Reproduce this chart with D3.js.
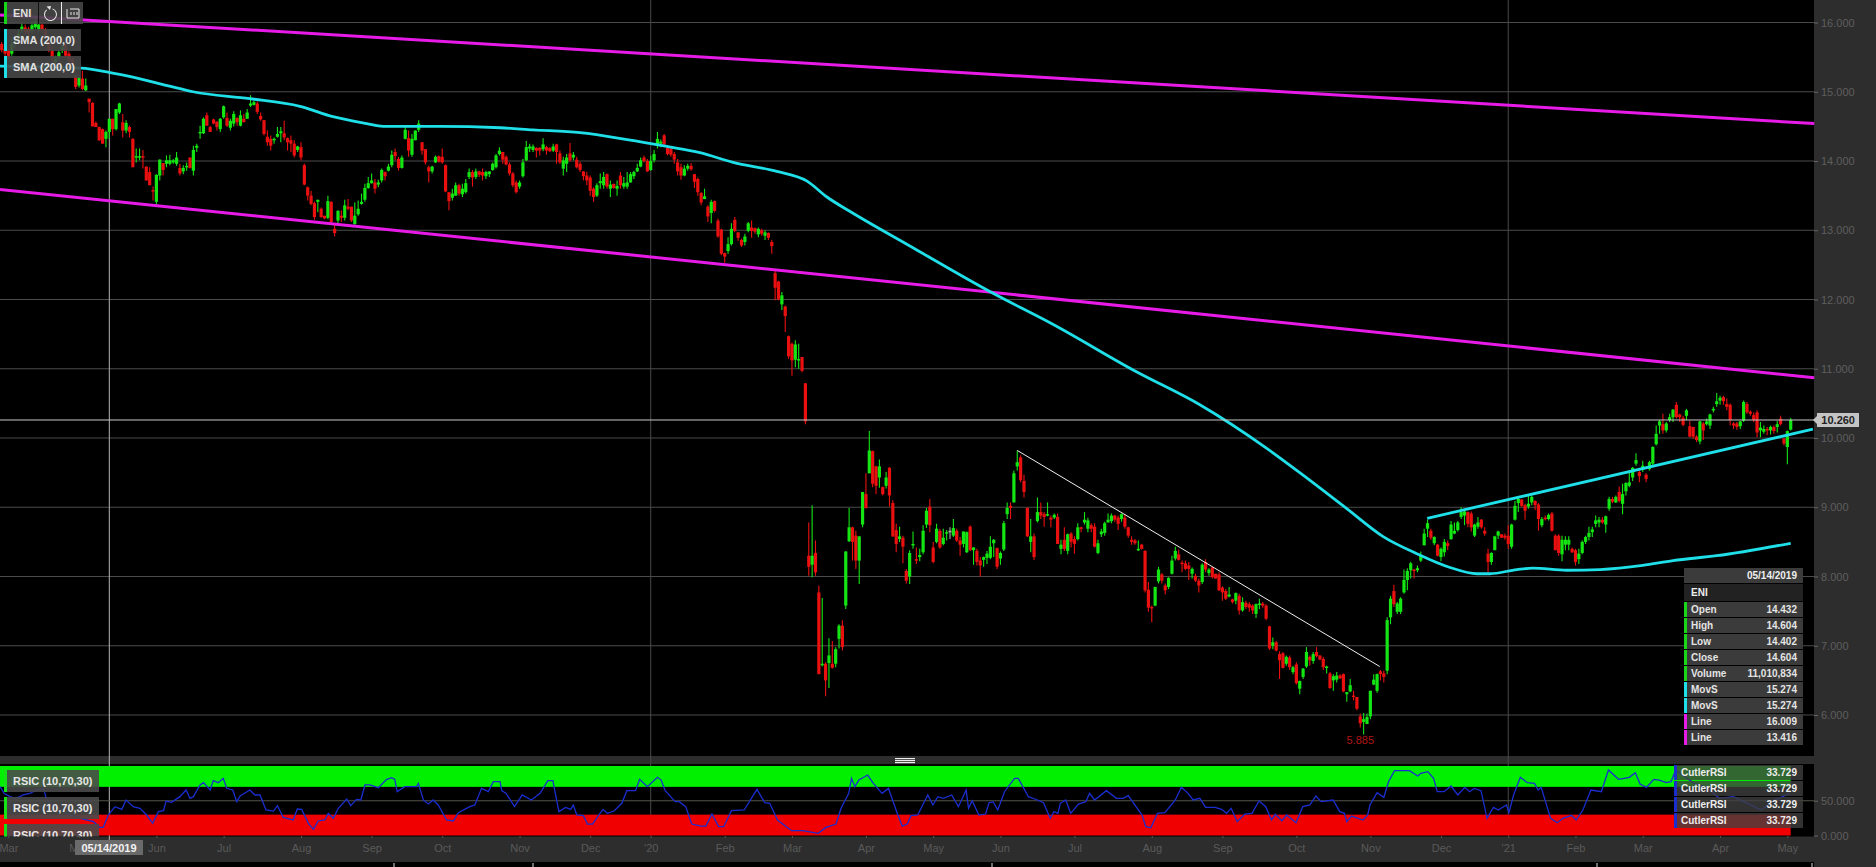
<!DOCTYPE html>
<html><head><meta charset="utf-8">
<script src="https://cdn.jsdelivr.net/npm/d3@7"></script>
<style>
html,body{margin:0;padding:0;background:#000;overflow:hidden}
text{font-family:"Liberation Sans",Arial,sans-serif}
svg{display:block}
</style></head><body><svg id="c" width="1876" height="867"></svg>
<script>
const priceTicks=[6,7,8,9,10,11,12,13,14,15,16];
const rsiTicks=[0,50];
const monthLabels=["Mar","May","Jun","Jul","Aug","Sep","Oct","Nov","Dec","'20","Feb","Mar","Apr","May","Jun","Jul","Aug","Sep","Oct","Nov","Dec","'21","Feb","Mar","Apr","May"];
const monthBars=[2,23,46,66,89,110,131,154,175,193,215,235,257,277,297,319,342,363,385,407,428,448,468,488,511,531];
const yearBars=[193,448];
const cursorBar=32, cursorPrice=10.26, lastPriceText="10.260", lowBar=404, lowPrice=5.885;
// open, high, low, close
const candles=[
[15.69,15.72,15.57,15.60],[15.62,15.64,15.50,15.55],[15.60,15.62,15.48,15.50],[15.55,15.76,15.52,15.69],[15.69,15.81,15.64,15.74],[15.76,15.90,15.72,15.84],[15.88,16.00,15.85,15.94],[15.93,15.97,15.82,15.86],[15.91,15.94,15.80,15.84],[15.88,16.02,15.85,15.96],
[15.93,16.07,15.91,16.02],[15.90,16.03,15.87,15.97],[15.97,16.00,15.85,15.90],[15.89,15.92,15.77,15.81],[15.74,15.79,15.57,15.60],[15.60,15.65,15.44,15.48],[15.43,15.52,15.40,15.48],[15.49,15.61,15.46,15.57],[15.60,15.68,15.56,15.64],[15.67,15.70,15.49,15.52],
[15.55,15.58,15.42,15.45],[15.48,15.50,15.34,15.38],[15.23,15.26,15.04,15.07],[15.09,15.24,15.06,15.20],[15.19,15.30,15.02,15.04],[15.02,15.19,15.01,15.09],
[14.90,14.90,14.70,14.85],[14.84,14.85,14.50,14.50],[14.55,14.57,14.49,14.49],[14.49,14.50,14.29,14.30],[14.46,14.47,14.25,14.25],[14.32,14.44,14.20,14.42],[14.42,14.61,14.32,14.61],[14.61,14.61,14.37,14.46],[14.46,14.75,14.44,14.75],[14.70,14.84,14.68,14.83],
[14.56,14.68,14.34,14.44],[14.44,14.59,14.40,14.55],[14.49,14.51,14.34,14.42],[14.32,14.33,13.91,13.91],[14.05,14.18,13.98,14.07],[14.05,14.18,14.01,14.07],[14.07,14.16,13.89,14.05],[13.92,13.92,13.72,13.72],[13.84,13.91,13.65,13.65],[13.58,13.63,13.43,13.56],
[13.41,13.81,13.37,13.80],[13.79,14.02,13.72,14.02],[13.97,13.97,13.79,13.87],[13.96,14.08,13.91,14.01],[13.96,14.09,13.94,14.01],[13.98,14.03,13.96,14.01],[13.96,14.13,13.93,14.05],[13.90,13.96,13.79,13.82],[13.85,13.94,13.81,13.90],[13.92,13.98,13.86,13.93],
[14.05,14.05,13.89,13.90],[13.86,14.22,13.79,14.16],[14.19,14.25,14.13,14.22],[14.40,14.51,14.32,14.42],[14.40,14.63,14.39,14.61],[14.66,14.70,14.51,14.51],[14.49,14.51,14.42,14.42],[14.60,14.61,14.53,14.54],[14.57,14.57,14.44,14.49],[14.46,14.62,14.42,14.61],
[14.63,14.80,14.61,14.79],[14.62,14.70,14.49,14.51],[14.48,14.61,14.44,14.58],[14.54,14.72,14.50,14.68],[14.62,14.63,14.51,14.56],[14.51,14.73,14.50,14.66],[14.61,14.68,14.56,14.56],[14.61,14.75,14.61,14.70],[14.80,14.95,14.78,14.83],[14.81,14.87,14.80,14.85],
[14.83,14.86,14.68,14.71],[14.65,14.70,14.58,14.60],[14.59,14.59,14.37,14.39],[14.35,14.44,14.22,14.27],[14.32,14.37,14.15,14.22],[14.30,14.34,14.25,14.32],[14.35,14.49,14.34,14.39],[14.40,14.49,14.27,14.43],[14.40,14.58,14.30,14.34],[14.33,14.34,14.15,14.27],
[14.30,14.37,14.13,14.25],[14.25,14.30,14.05,14.08],[14.16,14.22,14.13,14.21],[14.20,14.27,14.01,14.05],[13.94,13.96,13.65,13.66],[13.62,13.63,13.43,13.50],[13.50,13.57,13.36,13.38],[13.39,13.41,13.15,13.19],[13.41,13.44,13.26,13.44],[13.31,13.33,13.18,13.19],
[13.21,13.21,13.16,13.17],[13.18,13.50,13.16,13.42],[13.41,13.42,13.09,13.12],[13.02,13.09,12.91,12.96],[13.14,13.29,13.09,13.28],[13.21,13.29,13.12,13.18],[13.18,13.44,13.14,13.36],[13.34,13.45,13.29,13.31],[13.34,13.34,13.12,13.14],[13.09,13.40,13.08,13.21],
[13.23,13.43,13.21,13.31],[13.38,13.53,13.37,13.41],[13.44,13.67,13.41,13.61],[13.61,13.77,13.60,13.68],[13.68,13.82,13.67,13.72],[13.69,13.74,13.53,13.60],[13.66,13.73,13.62,13.69],[13.72,13.89,13.69,13.87],[13.84,13.85,13.72,13.78],[13.86,13.96,13.85,13.92],
[13.94,14.15,13.91,14.09],[14.13,14.18,14.01,14.07],[14.03,14.06,13.86,13.90],[13.90,14.08,13.89,14.05],[14.32,14.49,14.31,14.45],[14.33,14.44,14.06,14.15],[14.09,14.39,14.06,14.32],[14.30,14.44,14.30,14.44],[14.45,14.59,14.42,14.54],[14.27,14.27,14.09,14.15],
[14.17,14.17,13.95,13.98],[13.91,13.93,13.69,13.85],[13.85,13.93,13.82,13.92],[13.98,14.08,13.97,14.06],[14.07,14.08,13.98,13.99],[14.06,14.18,13.96,13.98],[13.94,13.95,13.55,13.56],[13.55,13.55,13.29,13.42],
[13.47,13.60,13.43,13.53],[13.50,13.69,13.50,13.65],[13.65,13.67,13.50,13.53],[13.52,13.67,13.48,13.60],[13.55,13.74,13.53,13.68],[13.77,13.89,13.74,13.84],[13.84,13.87,13.63,13.76],[13.77,13.89,13.74,13.85],[13.85,13.86,13.77,13.80],[13.84,13.89,13.72,13.79],
[13.78,13.86,13.74,13.84],[13.81,13.85,13.77,13.85],[13.87,13.98,13.86,13.96],[13.91,14.10,13.89,14.08],[14.10,14.20,14.08,14.15],[14.13,14.13,13.96,14.02],[14.06,14.08,13.94,13.95],[13.95,13.98,13.79,13.82],[13.82,13.84,13.62,13.65],[13.69,13.72,13.53,13.55],
[13.63,13.72,13.60,13.69],[13.78,14.03,13.76,13.98],[14.01,14.29,14.00,14.20],[14.18,14.25,14.13,14.21],[14.16,14.24,14.13,14.21],[14.19,14.20,14.05,14.15],[14.19,14.20,14.08,14.15],[14.17,14.33,14.14,14.24],[14.20,14.22,14.09,14.15],[14.19,14.20,14.13,14.14],
[14.15,14.25,14.13,14.21],[14.24,14.25,13.96,14.13],[14.11,14.15,13.96,13.98],[13.89,14.06,13.79,14.01],[13.96,14.10,13.84,14.05],[14.11,14.26,13.99,14.01],[14.05,14.13,14.01,14.09],[14.02,14.06,13.89,13.91],[13.96,13.99,13.84,13.87],[13.85,13.85,13.72,13.78],
[13.79,13.84,13.65,13.72],[13.76,13.79,13.50,13.57],[13.60,13.62,13.41,13.48],[13.50,13.68,13.48,13.65],[13.68,13.82,13.60,13.71],[13.65,13.84,13.60,13.77],[13.81,13.82,13.60,13.63],[13.60,13.72,13.48,13.66],[13.67,13.67,13.60,13.61],[13.60,13.72,13.50,13.64],
[13.79,13.84,13.60,13.65],[13.63,13.77,13.60,13.68],[13.63,13.84,13.60,13.69],[13.69,13.84,13.69,13.81],[13.78,13.86,13.74,13.84],[13.85,13.96,13.84,13.90],[13.92,14.05,13.91,14.01],[14.05,14.08,13.98,14.00],[14.00,14.03,13.84,13.85],[13.87,14.08,13.86,14.00],
[14.01,14.16,13.98,14.10],[14.22,14.42,14.18,14.32],[14.25,14.31,14.20,14.28],[14.37,14.39,14.22,14.24],[14.19,14.22,14.08,14.10],[14.18,14.20,14.06,14.09],[14.10,14.13,13.96,14.02],[13.98,14.03,13.79,13.85],[13.91,13.96,13.73,13.79],[13.79,13.94,13.78,13.89],
[13.89,13.96,13.86,13.93],[13.93,13.97,13.86,13.88],[13.81,13.81,13.61,13.70],[13.74,13.76,13.50,13.55],[13.54,13.55,13.36,13.40],[13.45,13.60,13.45,13.49],[13.34,13.36,13.12,13.20],[13.25,13.44,13.10,13.41],[13.42,13.43,13.26,13.28],[13.14,13.17,12.89,12.91],
[13.01,13.02,12.64,12.66],[12.67,12.68,12.53,12.62],[12.70,12.90,12.66,12.80],[12.80,13.10,12.78,13.02],[13.15,13.19,12.97,12.99],[12.97,12.97,12.85,12.89],[12.86,12.88,12.76,12.78],[12.83,12.95,12.78,12.91],[12.99,13.12,12.97,13.10],[13.04,13.14,12.89,12.99],
[13.03,13.04,12.95,12.98],[12.94,13.04,12.90,13.02],[13.00,13.02,12.92,12.95],[12.92,13.00,12.86,12.97],[12.96,12.97,12.86,12.89],[12.83,12.86,12.66,12.77],[12.38,12.42,11.99,12.17],[12.26,12.27,11.99,12.00],[11.93,12.11,11.85,12.06],[11.90,11.91,11.53,11.76],
[11.47,11.48,11.14,11.18],[11.36,11.38,10.90,11.12],[11.13,11.41,11.02,11.35],[11.12,11.36,11.00,11.14],[11.17,11.17,10.95,10.97],[10.79,10.79,10.20,10.24],
[8.30,8.78,8.01,8.14],[8.17,9.03,7.99,8.30],[8.34,8.52,8.01,8.06],[7.77,7.87,6.59,6.59],[6.72,7.69,6.70,6.74],[6.74,6.76,6.27,6.50],[6.75,7.11,6.39,6.86],[6.74,7.07,6.67,6.68],[6.74,6.98,6.69,6.95],[7.10,7.31,6.96,7.29],
[7.29,7.37,6.93,6.98],[7.58,8.37,7.53,8.36],[8.51,8.99,8.50,8.71],[8.71,8.72,8.23,8.50],[8.59,8.66,8.11,8.23],[8.23,8.58,7.89,8.58],[8.75,9.22,8.71,9.22],[9.19,9.49,8.98,8.99],[9.49,10.10,9.49,9.82],[9.81,9.82,9.29,9.34],
[9.59,9.60,9.19,9.31],[9.43,9.69,9.28,9.59],[9.29,9.30,9.17,9.19],[9.31,9.51,9.27,9.43],[9.57,9.58,9.01,9.17],[9.06,9.10,8.57,8.58],[8.67,8.76,8.35,8.47],[8.54,8.72,8.50,8.58],[8.56,8.59,8.19,8.43],[8.08,8.11,7.90,7.94],
[8.00,8.38,7.89,8.34],[8.45,8.65,8.40,8.47],[8.25,8.42,8.18,8.23],[8.28,8.40,8.22,8.31],[8.35,8.74,8.32,8.66],[8.75,8.99,8.70,8.95],[9.01,9.12,8.64,8.74],[8.42,8.50,8.19,8.21],[8.50,8.76,8.48,8.69],[8.66,8.69,8.40,8.42],
[8.47,8.69,8.45,8.56],[8.62,8.67,8.52,8.64],[8.66,8.71,8.54,8.66],[8.59,8.83,8.57,8.70],[8.66,8.69,8.50,8.52],[8.52,8.57,8.30,8.46],[8.47,8.65,8.42,8.65],[8.35,8.65,8.34,8.64],[8.72,8.74,8.37,8.38],[8.38,8.42,8.17,8.42],
[8.37,8.40,8.16,8.21],[8.23,8.28,8.00,8.16],[8.24,8.29,8.14,8.28],[8.27,8.37,8.18,8.33],[8.27,8.58,8.25,8.43],[8.48,8.54,8.28,8.53],[8.41,8.42,8.11,8.14],[8.26,8.36,8.17,8.34],[8.39,8.80,8.37,8.77],[8.90,9.07,8.83,8.99],
[9.02,9.07,8.83,8.99],[9.07,9.53,9.07,9.49],[9.59,9.82,9.53,9.65],[9.72,9.75,9.36,9.39],[9.38,9.47,9.14,9.22],[8.99,9.00,8.57,8.58],[8.50,8.83,8.35,8.58],[8.58,8.62,8.24,8.28],[8.80,9.14,8.78,8.93],[8.93,9.07,8.83,8.88],
[8.90,8.93,8.72,8.86],[8.88,9.07,8.87,8.90],[8.85,8.88,8.71,8.82],[8.85,8.91,8.83,8.89],[8.86,8.91,8.47,8.47],[8.40,8.53,8.32,8.46],[8.53,8.71,8.37,8.40],[8.37,8.62,8.32,8.61],[8.62,8.64,8.42,8.50],[8.54,8.58,8.33,8.47],
[8.54,8.77,8.52,8.71],[8.71,8.72,8.64,8.69],[8.78,8.93,8.75,8.82],[8.69,8.85,8.64,8.81],[8.74,8.77,8.64,8.69],[8.72,8.77,8.42,8.43],[8.34,8.53,8.32,8.48],[8.61,8.69,8.57,8.65],[8.63,8.79,8.59,8.77],[8.78,8.91,8.78,8.82],
[8.80,8.91,8.77,8.88],[8.88,8.89,8.79,8.82],[8.85,8.88,8.67,8.76],[8.83,8.91,8.79,8.90],[8.85,8.90,8.69,8.72],[8.71,8.72,8.56,8.59],[8.53,8.58,8.46,8.50],[8.52,8.54,8.46,8.48],[8.38,8.52,8.37,8.40],[8.46,8.47,8.39,8.40],
[8.37,8.38,7.77,7.80],[7.81,7.92,7.49,7.55],[7.56,7.58,7.34,7.55],[7.58,7.85,7.57,7.85],[7.93,8.14,7.90,8.10],[8.03,8.05,7.90,7.94],[7.87,7.90,7.74,7.80],[7.85,7.99,7.82,7.98],[8.04,8.30,8.03,8.23],[8.26,8.43,8.23,8.37],
[8.32,8.39,8.23,8.24],[8.20,8.23,8.06,8.18],[8.19,8.23,8.09,8.11],[8.16,8.21,7.95,8.11],[8.04,8.13,7.97,8.11],[8.01,8.04,7.92,7.94],[7.94,7.97,7.77,7.87],
[7.92,8.19,7.89,8.17],[8.21,8.25,8.06,8.10],[8.05,8.12,8.01,8.10],[8.13,8.14,7.97,7.99],[8.04,8.04,7.97,7.97],[8.03,8.06,7.79,7.80],[7.84,7.86,7.65,7.77],[7.79,7.82,7.66,7.68],[7.71,7.85,7.70,7.74],[7.67,7.68,7.61,7.63],
[7.65,7.77,7.60,7.76],[7.72,7.75,7.45,7.51],[7.51,7.70,7.49,7.63],[7.62,7.65,7.53,7.56],[7.60,7.63,7.49,7.55],[7.58,7.60,7.46,7.51],[7.46,7.61,7.40,7.60],[7.59,7.68,7.53,7.61],[7.61,7.63,7.55,7.58],[7.58,7.60,7.37,7.39],
[7.28,7.29,6.94,6.96],[7.00,7.12,6.95,7.05],[7.05,7.07,6.92,6.93],[6.88,6.92,6.52,6.79],[6.89,6.91,6.67,6.68],[6.74,6.86,6.71,6.84],[6.83,6.86,6.65,6.69],[6.62,6.71,6.59,6.69],[6.73,6.76,6.44,6.46],[6.38,6.50,6.30,6.49],
[6.55,6.68,6.52,6.67],[6.70,6.98,6.68,6.91],[6.84,6.86,6.71,6.79],[6.78,6.91,6.74,6.88],[6.91,6.98,6.83,6.85],[6.86,6.86,6.79,6.80],[6.81,6.84,6.65,6.69],[6.68,6.71,6.60,6.70],[6.60,6.62,6.38,6.39],[6.50,6.59,6.35,6.56],
[6.51,6.62,6.47,6.57],[6.57,6.59,6.52,6.53],[6.59,6.60,6.33,6.34],[6.30,6.33,6.19,6.33],[6.34,6.52,6.33,6.43],[6.28,6.35,6.21,6.26],[6.26,6.26,6.07,6.09],[5.98,6.02,5.82,5.88],[5.90,6.03,5.72,5.94],[5.87,6.02,5.87,5.97],
[5.98,6.35,5.94,6.35],[6.44,6.59,6.43,6.51],[6.35,6.60,6.32,6.59],[6.63,6.65,6.50,6.59],[6.60,6.64,6.47,6.55],[6.64,7.41,6.59,7.37],[7.41,7.72,7.31,7.68],[7.79,7.88,7.56,7.60],[7.49,7.63,7.46,7.61],[7.49,7.70,7.46,7.68],
[7.77,8.10,7.75,7.95],[7.95,8.12,7.80,8.08],[8.09,8.21,7.97,8.19],[8.10,8.11,7.97,8.08],[8.09,8.16,8.06,8.12],[8.23,8.36,8.21,8.30],[8.45,8.69,8.45,8.62],[8.69,8.82,8.57,8.77],[8.66,8.69,8.53,8.56],[8.48,8.58,8.45,8.57],
[8.46,8.47,8.29,8.30],[8.28,8.42,8.22,8.40],[8.35,8.54,8.29,8.50],[8.48,8.52,8.38,8.44],[8.54,8.80,8.53,8.75],[8.62,8.78,8.61,8.66],[8.67,8.80,8.65,8.78],[8.86,9.00,8.83,8.93],[8.88,8.98,8.74,8.94],[8.93,8.94,8.71,8.76],
[8.91,8.94,8.65,8.71],[8.59,8.76,8.57,8.75],[8.72,8.86,8.69,8.78],[8.82,8.83,8.69,8.71],[8.66,8.71,8.59,8.62],[8.33,8.40,8.06,8.21],[8.21,8.35,8.17,8.34],[8.38,8.59,8.38,8.58],[8.59,8.66,8.54,8.65],[8.61,8.61,8.56,8.56],
[8.59,8.62,8.53,8.56],[8.59,8.74,8.40,8.47],[8.43,8.76,8.40,8.75],[8.82,9.09,8.81,9.02],[9.06,9.14,8.93,9.12],[9.11,9.12,9.00,9.02],[9.03,9.05,8.82,8.95],[9.01,9.17,8.98,9.05],[9.07,9.17,9.03,9.15],[9.09,9.10,8.96,9.03],
[9.04,9.06,8.66,8.83],[8.74,8.86,8.71,8.83],[8.85,8.88,8.81,8.83],[8.83,8.91,8.81,8.89],[8.91,8.93,8.65,8.66],
[8.59,8.61,8.38,8.38],[8.59,8.61,8.30,8.34],[8.32,8.59,8.22,8.53],[8.46,8.58,8.38,8.53],[8.46,8.58,8.38,8.53],[8.40,8.42,8.34,8.35],[8.38,8.40,8.16,8.21],[8.25,8.40,8.18,8.33],[8.34,8.52,8.32,8.50],[8.50,8.59,8.47,8.57],
[8.57,8.72,8.52,8.63],[8.64,8.72,8.57,8.68],[8.76,8.88,8.71,8.81],[8.78,8.86,8.71,8.82],[8.82,8.86,8.76,8.78],[8.75,8.88,8.63,8.87],[8.98,9.15,8.95,9.12],[9.12,9.15,9.06,9.08],[9.07,9.17,9.06,9.15],[9.22,9.30,9.07,9.09],
[9.05,9.34,8.90,9.19],[9.23,9.36,9.17,9.35],[9.31,9.53,9.29,9.36],[9.43,9.58,9.38,9.57],[9.63,9.78,9.60,9.68],[9.51,9.53,9.36,9.45],[9.54,9.67,9.51,9.60],[9.47,9.49,9.36,9.41],[9.55,9.67,9.53,9.65],[9.63,9.88,9.60,9.87],
[9.91,10.18,9.89,10.06],[10.18,10.26,10.06,10.24],[10.20,10.35,10.06,10.11],[10.11,10.23,10.08,10.21],[10.26,10.35,10.23,10.30],[10.30,10.42,10.23,10.41],[10.48,10.52,10.28,10.30],[10.34,10.35,10.23,10.30],[10.29,10.32,10.17,10.19],[10.32,10.42,10.26,10.40],
[10.17,10.25,10.01,10.02],[10.16,10.16,9.99,10.02],[10.02,10.04,9.94,9.97],[9.95,10.25,9.91,10.24],[10.21,10.23,9.97,10.11],[10.20,10.28,10.18,10.24],[10.18,10.35,10.13,10.34],[10.40,10.45,10.37,10.42],[10.49,10.65,10.45,10.53],[10.54,10.61,10.48,10.58],
[10.59,10.61,10.48,10.53],[10.49,10.57,10.40,10.45],[10.48,10.50,10.18,10.26],[10.21,10.23,10.13,10.18],[10.21,10.23,10.12,10.16],[10.17,10.25,10.13,10.24],[10.25,10.54,10.23,10.52],[10.49,10.52,10.35,10.37],[10.38,10.40,10.32,10.35],[10.33,10.37,10.23,10.26],
[10.37,10.40,10.01,10.08],[10.11,10.23,10.01,10.15],[10.09,10.18,10.06,10.13],[10.13,10.16,10.04,10.11],[10.11,10.18,10.05,10.16],[10.16,10.18,10.06,10.10],[10.16,10.25,10.08,10.20],[10.28,10.32,10.18,10.20],[9.99,10.00,9.89,9.92],[9.87,10.11,9.62,10.10],
[10.12,10.29,10.11,10.26]];
const smaBars=[-0.5,23.6,31.9,39,49.2,56.9,73.8,88.7,98.5,108.6,113.4,118.4,130.3,148.2,158,172,186,197.8,207.6,217.5,230.5,239.5,245.4,252.3,269.8,294.8,312.3,337.3,356.3,376.2,386,400,410.7,420.8,430.7,438.7,442.5,450.6,455.3,465.4,475.3,488,497,510,532];
const smaValues=[15.37,15.34,15.28,15.21,15.09,15.00,14.90,14.79,14.64,14.54,14.50,14.50,14.50,14.48,14.45,14.41,14.31,14.21,14.12,13.98,13.85,13.71,13.48,13.27,12.78,12.09,11.65,10.96,10.48,9.85,9.50,8.98,8.58,8.33,8.13,8.04,8.04,8.10,8.12,8.09,8.10,8.16,8.23,8.30,8.48];
const upperChannel=[[-0.5,16.11],[539,14.54]];
const lowerChannel=[[-0.5,13.59],[539,10.87]];
const downTrend=[[302,9.82],[409.8,6.70]];
const upTrend=[[423.9,8.84],[538.6,10.127]];
const rsiPoints=[[-0.5,70.3],[0.7,60.7],[2.5,55.9],[4,53.5],[5.4,55.9],[6.4,58.3],[8.4,60.7],[10.4,65.5],[12.4,67.9],[13.4,51.1],[14.4,46.3],[19.3,31.9],[23.3,24.7],[27.3,19.9],[29.2,11.7],[30.2,11.7],[31.7,29.5],[33.7,41.5],[35.7,37.6],[37,51.1],[39.1,41.5],[41.1,39.1],[43.1,29.5],[44.9,17.5],[46.6,34.3],[48.1,35.7],[48.9,49.6],[50.5,47.7],[53,55.9],[54.8,65.5],[56,53.5],[57,55.9],[59,72.7],[60,76],[62,65.5],[62.9,78.9],[64.4,76],[65.9,82.2],[66.9,67.9],[68.7,65.5],[69.9,48.7],[70.9,56.8],[73.8,65.5],[75.3,58.3],[76.8,58.3],[78.6,36.7],[80.8,35.2],[82,42.9],[83.7,26.1],[86.7,22.3],[87.9,38.1],[89.2,37.6],[91.2,17.5],[92.7,8.9],[94.1,20.9],[96.1,22.3],[97.1,31.9],[98.6,24.7],[100.1,39.1],[102.6,52.5],[103.8,42.9],[105.5,52],[106.8,51.1],[108,72.7],[109.5,72.7],[112,68.8],[114.5,80.8],[116,83.2],[116.9,80.8],[117.6,63.1],[119.9,70.3],[123.4,70.3],[123.9,75],[125.4,51.1],[126.9,45.3],[128.3,51.1],[129.8,43.9],[132.3,22.3],[134.3,20.9],[135.8,32.8],[139.2,41.5],[140.7,43.9],[142.7,67.9],[144.7,63.1],[146.2,77.4],[148.2,77.4],
[148.7,64.5],[150,60.6],[152.5,41.5],[154.8,58.3],[157.5,51.1],[160.1,60.6],[162.4,78.9],[163.9,78.9],[165.7,34.3],[167.7,40.5],[169.2,37.6],[170,43.9],[171,29.5],[173,28.5],[174.2,16.5],[175.7,16.5],[177.6,29.5],[178.8,37.6],[180.1,31.9],[182.1,35.2],[184.4,46.3],[185.9,64.5],[188.5,64.5],[189.7,80.8],[192,70.2],[195,83.7],[196.1,79.8],[197.3,64.5],[200.3,48.7],[201.5,48.7],[203.4,41.5],[205.2,16.5],[207.9,13.6],[209.4,13.6],[211.2,30.9],[213.2,12.7],[214.7,12.7],[217,35.7],[220.8,36.7],[224.6,66.4],[226.9,47.2],[228.4,46.3],[230.7,22.3],[234.9,6.9],[238.2,6.9],[242.8,3.1],[245.1,11.7],[248.1,16.5],[249.6,39.1],[251.9,60.6],[252.7,82.2],[253.7,70.2],[254.9,79.8],[257.5,87],[259.2,75],[261.8,60.6],[263.7,67.8],[266.3,31.9],[267.8,13.6],[269.3,16.5],[270.4,28.5],[272.4,29.5],[275.4,58.3],[276.9,43.9],[278.4,55.9],[280,53.5],[282.5,58.3],[284.5,41.5],[286.8,65.4],[287.5,39.1],[288.6,50.1],[290.6,29.5],[292.6,30.9],[293.6,47.2],[294.8,48.7],[296.2,36.7],[298.2,63],[301.2,82.2],[302.3,82.2],[305.3,55.9],[308,51.1],[309.8,47.2],[311.8,24.7],[312.9,34.3],[314.1,31.9],[314.8,46.3],[316.4,51.1],[317.9,31.9],[320.2,45.3],[322.4,48.7],[323.5,60.6],[325,51.1],[328.5,64.5],[331.5,53.5],[333.5,53.5],[335,57.3],[339.1,29.5],[340.2,12.7],[341.7,11.2],[343.7,31.9],[345.9,32.8],[349,51.1],[350.8,69.3],[352.8,60.6],[354.3,51.1],[356.3,53.5],
[358,40.5],[360.8,40.5],[362.8,37.6],[364.2,31.9],[365.6,39.1],[367.4,19.9],[369.7,30.9],[371.8,31.9],[373.9,49.6],[375.9,41.5],[377.6,22.3],[378.7,30.4],[380.7,21.3],[382.1,29.5],[384.9,18.4],[386.9,41.5],[389,43.9],[390.8,56.8],[392.4,48.7],[395.9,51.1],[397.9,34.3],[399.3,31.9],[400,19.9],[401.4,28],[404.8,22.3],[406.2,29.5],[406.9,43.9],[409,61.6],[411,54.9],[412.4,77.4],[414.2,93.3],[418.6,93.3],[421.1,85.6],[422,89.4],[424.1,91.8],[425.8,82.2],[426.9,63],[428.9,63],[431,71.2],[433,58.3],[435.1,69.3],[436.5,63],[437.9,67.8],[439.9,64.5],[441.7,24.7],[443.6,40.5],[445,36.7],[447.5,43.9],[448.2,32.8],[449.6,58.3],[451.6,83.7],[453.7,76],[455.8,75],[456.9,65.4],[457.8,69.3],[460.6,24.7],[462.6,18.4],[464.3,24.7],[466.8,29],[468.2,22.3],[470.2,36.7],[472.6,65.4],[475.7,63],[477.8,94.2],[480.8,80.8],[484,83.7],[485.8,90.4],[487.2,74.1],[489.1,69.3],[491.3,80.8],[492.9,79.8],[495,76],[496.4,77.4],[497.8,94.2],[499.8,87],[503.3,75],[506.7,70.2],[510.8,53.5],[515,55.9],[519.1,46.3],[523.2,36.7],[527.3,51.1],[531.8,60.6]];
const overboughtLevel=70, oversoldLevel=30;
const infoDate="05/14/2019", infoSymbol="ENI";
const infoRows=[["Open","14.432","#19d619"],["High","14.604","#19d619"],["Low","14.402","#19d619"],["Close","14.604","#19d619"],["Volume","11,010,834","#19d619"],["MovS","15.274","#1fdfe8"],["MovS","15.274","#1fdfe8"],["Line","16.009","#e81ae8"],["Line","13.416","#e81ae8"]];
const cutlerRows=[["CutlerRSI","33.729"],["CutlerRSI","33.729"],["CutlerRSI","33.729"],["CutlerRSI","33.729"]];
const smaLegend=["SMA (200,0)","SMA (200,0)"];
const rsiLegend=["RSIC (10,70,30)","RSIC (10,70,30)","RSIC (10,70,30)"];

const W=1876,H=867,plotR=1814;
const svg=d3.select("#c");
const N=candles.length;
const x=d3.scaleLinear().domain([0,N-1]).range([1.7,1790.7]);
const y=d3.scaleLinear().domain([6,16]).range([715,22.5]);
const r=d3.scaleLinear().domain([0,100]).range([835.5,766]);
const gray="#2d2d2d", grid="#4b4b4b", axisTxt="#5e5e5e", up="#14e614", dn="#ea1010";

svg.append("rect").attr("width",W).attr("height",H).attr("fill","#000");
// chrome
svg.append("rect").attr("x",plotR).attr("y",0).attr("width",W-plotR).attr("height",H).attr("fill",gray);
svg.append("rect").attr("x",0).attr("y",756).attr("width",plotR).attr("height",8).attr("fill",gray);
svg.append("rect").attr("x",0).attr("y",836.5).attr("width",plotR).attr("height",25.5).attr("fill",gray);

// grid
const gridG=svg.append("g");
gridG.selectAll(".h").data(priceTicks).join("line").attr("x1",0).attr("x2",plotR).attr("y1",d=>y(d)).attr("y2",d=>y(d)).attr("stroke",grid).attr("stroke-width",1);
gridG.selectAll(".v").data(yearBars).join("line").attr("x1",d=>x(d)).attr("x2",d=>x(d)).attr("y1",0).attr("y2",836).attr("stroke","#4a4a4a");
gridG.append("line").attr("x1",x(cursorBar)).attr("x2",x(cursorBar)).attr("y1",0).attr("y2",842).attr("stroke","#b5b5b5");
gridG.append("line").attr("x1",0).attr("x2",plotR).attr("y1",r(50)).attr("y2",r(50)).attr("stroke","#55554a");

svg.append("g").selectAll("rect").data([758,760,762]).join("rect").attr("x",895).attr("y",d=>d).attr("width",20).attr("height",1.2).attr("fill","#eee");

// axes
const ya=svg.append("g").attr("transform",`translate(${plotR},0)`).call(d3.axisRight(y).tickValues(priceTicks).tickSize(4).tickPadding(3).tickFormat(d3.format(".3f")));
const ra=svg.append("g").attr("transform",`translate(${plotR},0)`).call(d3.axisRight(r).tickValues(rsiTicks).tickSize(4).tickPadding(3).tickFormat(d3.format(".3f")));
const xa=svg.append("g").attr("transform","translate(0,836)").call(d3.axisBottom(x).tickValues(monthBars).tickSize(2).tickPadding(4).tickFormat((d,i)=>monthLabels[i]));
[ya,ra,xa].forEach(g=>{g.select(".domain").remove();g.selectAll("line").attr("stroke","#666");g.selectAll("text").attr("fill",axisTxt).attr("font-size",11).attr("font-family","Liberation Sans");});
xa.selectAll("line").attr("stroke","#555");
xa.selectAll("text").attr("dy","0.95em").attr("fill","#5a5a5a");

// channel, SMA, trend lines
const ln=d3.line().x(d=>x(d[0])).y(d=>y(d[1]));
const sma=smaBars.map((b,i)=>[b,smaValues[i]]);
const linesG=svg.append("g").attr("fill","none");

// candles
const cG=svg.append("g");
const col=d=>d[3]>d[0]?up:d[3]<d[0]?dn:"#a9a9a9";
cG.selectAll(".w").data(candles).join("line")
 .attr("x1",(d,i)=>x(i)).attr("x2",(d,i)=>x(i)).attr("y1",d=>y(d[1])).attr("y2",d=>y(d[2])).attr("stroke",col).attr("stroke-width",1.1);
cG.selectAll(".b").data(candles).join("rect")
 .attr("x",(d,i)=>x(i)-1.6).attr("width",3.2)
 .attr("y",d=>y(Math.max(d[0],d[3])))
 .attr("height",d=>Math.max(1.5,Math.abs(y(d[0])-y(d[3]))))
 .attr("fill",col);

linesG.raise();
linesG.append("path").datum(upperChannel).attr("d",ln).attr("stroke","#e81ae8").attr("stroke-width",3);
linesG.append("path").datum(lowerChannel).attr("d",ln).attr("stroke","#e81ae8").attr("stroke-width",3);
linesG.append("path").datum(sma).attr("d",ln.curve(d3.curveMonotoneX)).attr("stroke","#1fdfe8").attr("stroke-width",2.8);
ln.curve(d3.curveLinear);
linesG.append("path").datum(upTrend).attr("d",ln).attr("stroke","#1fdfe8").attr("stroke-width",2.8);
linesG.append("path").datum(downTrend).attr("d",ln).attr("stroke","#efefef").attr("stroke-width",1);

// cursor price line & low label
svg.append("line").attr("x1",0).attr("x2",plotR).attr("y1",y(cursorPrice)).attr("y2",y(cursorPrice)).attr("stroke","#c9c9c9").attr("stroke-width",1);
svg.append("text").attr("x",x(lowBar)).attr("y",y(lowPrice)+21).attr("text-anchor","middle").attr("font-size",11).attr("fill","#b31414").text(lowPrice.toFixed(3));

// RSI bands and line
svg.append("rect").attr("x",0).attr("width",x(N-1)).attr("y",r(100)).attr("height",r(overboughtLevel)-r(100)).attr("fill","#00f000");
svg.append("rect").attr("x",0).attr("width",x(N-1)).attr("y",r(oversoldLevel)).attr("height",r(0)-r(oversoldLevel)).attr("fill","#f00000");
svg.append("path").datum(rsiPoints).attr("fill","none").attr("stroke","#1a2ed0").attr("stroke-width",1.3)
 .attr("d",d3.line().x(d=>x(d[0])).y(d=>r(d[1])));

// price tag
const tagY=y(cursorPrice);
svg.append("path").attr("d",`M1813,${tagY} L1817,${tagY-4} L1817,${tagY-7} L1859,${tagY-7} L1859,${tagY+7} L1817,${tagY+7} L1817,${tagY+4} Z`).attr("fill","#c4c4c4");
svg.append("text").attr("x",1855).attr("y",tagY+4).attr("text-anchor","end").attr("font-size",11).attr("fill","#222").attr("font-weight","bold").text(lastPriceText);

// top-left legend
function legendBox(yy,w,h,strip,label,op,bw){
  const g=svg.append("g");
  g.append("rect").attr("x",4).attr("y",yy).attr("width",w).attr("height",h).attr("fill","#474747").attr("fill-opacity",op);
  g.append("rect").attr("x",4).attr("y",yy).attr("width",3).attr("height",h).attr("fill",strip);
  g.append("text").attr("x",13).attr("y",yy+h/2+4).attr("font-size",11).attr("font-weight",bw||"normal").attr("fill","#e2e2e2").text(label);
  return g;
}
legendBox(2,79,22,"#14d614",infoSymbol,.9,"bold");
svg.append("line").attr("x1",38.5).attr("x2",38.5).attr("y1",2).attr("y2",24).attr("stroke","#111");
svg.append("line").attr("x1",61.5).attr("x2",61.5).attr("y1",2).attr("y2",24).attr("stroke","#eee");
svg.append("path").attr("d",d3.arc()({innerRadius:5.5,outerRadius:6.5,startAngle:0.35,endAngle:5.6})).attr("transform","translate(50.5,14.5)").attr("fill","#e6e6e6");
svg.append("path").attr("d","M46.5,6.5 L51,6 L50,10 Z").attr("fill","#e6e6e6");
svg.append("path").attr("d","M67,9 V18 H79 V9 H70 M71,15 V12 M74,15 V12 M77,15 V12").attr("fill","none").attr("stroke","#e6e6e6");
smaLegend.forEach((t,i)=>legendBox(29+27*i,77,22,"#1fdfe8",t,.9,"bold"));

// RSI legend, clipped to panel
const clip=svg.append("clipPath").attr("id","rc");clip.append("rect").attr("x",0).attr("y",764).attr("width",plotR).attr("height",72.5);
const rl=svg.append("g").attr("clip-path","url(#rc)");
rsiLegend.forEach((t,i)=>{
  const yy=770+27*i;
  rl.append("rect").attr("x",4).attr("y",yy).attr("width",95).attr("height",22).attr("fill","#4a4a4a").attr("fill-opacity",.9);
  rl.append("rect").attr("x",4).attr("y",yy).attr("width",3).attr("height",22).attr("fill","#14e214");
  rl.append("text").attr("x",13).attr("y",yy+15).attr("font-size",11).attr("font-weight","bold").attr("fill","#e8e8e8").text(t);
});

// date label on the x axis
svg.append("rect").attr("x",75).attr("y",840).attr("width",68).attr("height",15).attr("fill","#6a6a6a");
svg.append("text").attr("x",109).attr("y",851.5).attr("text-anchor","middle").attr("font-size",11).attr("font-weight","bold").attr("fill","#f2f2f2").text(infoDate);

// data window
const info=svg.append("g").attr("font-size",10).attr("font-weight","bold");
info.append("rect").attr("x",1684).attr("y",568).attr("width",119).attr("height",15).attr("fill","#3b3b3b");
info.append("text").attr("x",1797).attr("y",579).attr("text-anchor","end").attr("fill","#eee").text(infoDate);
info.append("rect").attr("x",1684).attr("y",584).attr("width",119).attr("height",17).attr("fill","#222");
info.append("text").attr("x",1691).attr("y",596).attr("fill","#eee").text(infoSymbol);
infoRows.forEach((d,i)=>{
  const yy=602+16*i;
  info.append("rect").attr("x",1684).attr("y",yy).attr("width",119).attr("height",15).attr("fill","#3b3b3b");
  info.append("rect").attr("x",1684).attr("y",yy).attr("width",3).attr("height",15).attr("fill",d[2]);
  info.append("text").attr("x",1691).attr("y",yy+11).attr("fill","#e4e4e4").text(d[0]);
  info.append("text").attr("x",1797).attr("y",yy+11).attr("text-anchor","end").attr("fill","#e4e4e4").text(d[1]);
});
cutlerRows.forEach((d,i)=>{
  const yy=765+16*i;
  info.append("rect").attr("x",1674).attr("y",yy).attr("width",129).attr("height",15).attr("fill","#404040").attr("fill-opacity",.78);
  info.append("rect").attr("x",1674).attr("y",yy).attr("width",3).attr("height",15).attr("fill","#1a2ed0");
  info.append("text").attr("x",1681).attr("y",yy+11).attr("fill","#eee").text(d[0]);
  info.append("text").attr("x",1797).attr("y",yy+11).attr("text-anchor","end").attr("fill","#eee").text(d[1]);
});
// separators in the toolbar strip below the chart
svg.append("g").selectAll("line").data([394,533,992,1597,1812]).join("line").attr("x1",d=>d).attr("x2",d=>d).attr("y1",863).attr("y2",867).attr("stroke","#ddd");
</script></body></html>
